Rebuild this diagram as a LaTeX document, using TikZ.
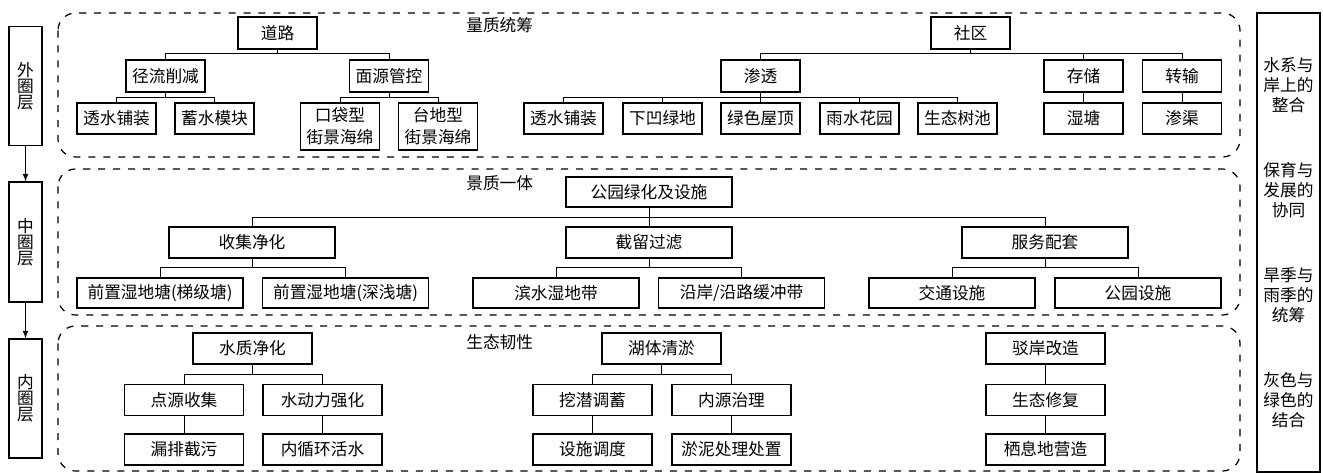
\documentclass[tikz,border=0pt]{standalone}
\usepackage{fontspec}
\setmainfont{Noto Sans CJK SC}
\usepackage{tikz}

\begin{document}
\begin{tikzpicture}[
		x=0.02cm, y=-0.02cm,
		every node/.style={font=\fontsize{9.5}{12.5}\selectfont, inner sep=0pt},
		box/.style={draw, line width=0.7pt, minimum width=1.58cm, minimum height=0.64cm, align=center},
		wide/.style={box, minimum width=3.32cm, minimum height=0.6cm},
		mid/.style={box, minimum width=2.38cm, minimum height=0.62cm},
		layer/.style={draw, line width=0.7pt, minimum width=0.66cm, minimum height=2.38cm, align=center, font=\fontsize{9.5}{9.1}\selectfont},
		goal/.style={align=center, font=\fontsize{9.5}{11.4}\selectfont},
		zone/.style={dash pattern=on 4pt off 4.5pt, line width=0.7pt, rounded corners=0.35cm},
		link/.style={line width=0.5pt}
	]
  \useasboundingbox (0,0) rectangle (1323,473);

  \draw [zone] (58,13) rectangle (1240,157);
  \draw [zone] (58,169) rectangle (1240,315);
  \draw [zone] (58,326) rectangle (1240,471);

  \node (L_out) [layer] at (25.5,86) {外\\圈\\层};
  \node (L_mid) [layer, minimum height=2.4cm] at (25.5,242) {中\\圈\\层};
  \node (L_in) [layer] at (25.5,398.5) {内\\圈\\层};
  \draw [link, -latex] (L_out) -- (L_mid);
  \draw [link, -latex] (L_mid) -- (L_in);

  \node (goals) [draw, line width=0.7pt, minimum width=1.26cm, minimum height=9.18cm] at (1288.5,242.5) {};
  \node (g_1) [goal] at (1288.5,85) {水系与\\岸上的\\整合};
  \node (g_2) [goal] at (1288.5,190) {保育与\\发展的\\协同};
  \node (g_3) [goal] at (1288.5,295) {旱季与\\雨季的\\统筹};
  \node (g_4) [goal] at (1288.5,400) {灰色与\\绿色的\\结合};

  \node (t_1) [anchor=west] at (466,25) {量质统筹};
  \node (t_2) [anchor=west] at (466,183) {景质一体};
  \node (t_3) [anchor=west] at (466,342) {生态韧性};

  \node (road) [box] at (277.5,33) {道路};
  \node (runoff) [box] at (165.5,76) {径流削减};
  \node (nonpt) [box] at (389,76) {面源管控};
  \node (pave_a) [box, minimum height=0.62cm] at (116.5,118.5) {透水铺装};
  \node (module) [box, minimum height=0.62cm] at (214.5,118.5) {蓄水模块};
  \node (pocket) [box, minimum height=0.94cm] at (340,126.5) {口袋型\\街景海绵};
  \node (terrace) [box, minimum height=0.94cm] at (438,126.5) {台地型\\街景海绵};
  \node (comm) [box] at (970.5,33) {社区};
  \node (infil) [box] at (760.5,76) {渗透};
  \node (store) [box] at (1083.5,76) {存储};
  \node (trans) [box] at (1182,76) {转输};
  \node (pave_b) [box, minimum height=0.62cm] at (563.5,118.5) {透水铺装};
  \node (sunken) [box, minimum height=0.62cm] at (662.5,118.5) {下凹绿地};
  \node (roof) [box, minimum height=0.62cm] at (760.5,118.5) {绿色屋顶};
  \node (rain) [box, minimum height=0.62cm] at (859.5,118.5) {雨水花园};
  \node (pit) [box, minimum height=0.62cm] at (957.5,118.5) {生态树池};
  \node (wet) [box, minimum height=0.62cm] at (1083.5,118.5) {湿塘};
  \node (ditch) [box, minimum height=0.62cm] at (1182,118.5) {渗渠};
  \draw [link] (road.south) -- ++(0,4) -| (runoff.north);
  \draw [link] (road.south) -- ++(0,4) -| (nonpt.north);
  \draw [link] (runoff.south) -- ++(0,5) -| (pave_a.north);
  \draw [link] (runoff.south) -- ++(0,5) -| (module.north);
  \draw [link] (nonpt.south) -- ++(0,5) -| (pocket.north);
  \draw [link] (nonpt.south) -- ++(0,5) -| (terrace.north);
  \draw [link] (comm.south) -- ++(0,4) -| (infil.north);
  \draw [link] (comm.south) -- ++(0,4) -| (store.north);
  \draw [link] (comm.south) -- ++(0,4) -| (trans.north);
  \draw [link] (infil.south) -- ++(0,5) -| (pave_b.north);
  \draw [link] (infil.south) -- ++(0,5) -| (sunken.north);
  \draw [link] (infil.south) -- (roof.north);
  \draw [link] (infil.south) -- ++(0,5) -| (rain.north);
  \draw [link] (infil.south) -- ++(0,5) -| (pit.north);
  \draw [link] (store) -- (wet);
  \draw [link] (trans) -- (ditch);

  \node (park) [wide] at (649,192) {公园绿化及设施};
  \node (collect) [wide, minimum height=0.62cm] at (252,242.5) {收集净化};
  \node (retain) [wide, minimum height=0.62cm] at (649,242.5) {截留过滤};
  \node (service) [wide, minimum height=0.62cm] at (1045,242.5) {服务配套};
  \node (pond_a) [wide] at (160,293) {前置湿地塘(梯级塘)};
  \node (pond_b) [wide] at (345.5,293) {前置湿地塘(深浅塘)};
  \node (shore) [wide] at (556,293) {滨水湿地带};
  \node (buffer) [wide] at (741.5,293) {沿岸/沿路缓冲带};
  \node (traffic) [wide] at (952,293) {交通设施};
  \node (facil) [wide] at (1138,293) {公园设施};
  \draw [link] (park.south) -- ++(0,10) -| (collect.north);
  \draw [link] (park.south) -- (retain.north);
  \draw [link] (park.south) -- ++(0,10) -| (service.north);
  \draw [link] (collect.south) -- ++(0,9) -| (pond_a.north);
  \draw [link] (collect.south) -- ++(0,9) -| (pond_b.north);
  \draw [link] (retain.south) -- ++(0,9) -| (shore.north);
  \draw [link] (retain.south) -- ++(0,9) -| (buffer.north);
  \draw [link] (service.south) -- ++(0,9) -| (traffic.north);
  \draw [link] (service.south) -- ++(0,9) -| (facil.north);

  \node (quality) [mid] at (252.5,348.5) {水质净化};
  \node (point) [mid] at (184,400) {点源收集};
  \node (hydro) [mid] at (322.5,400) {水动力强化};
  \node (leak) [mid] at (184,449.5) {漏排截污};
  \node (circ) [mid] at (322.5,449.5) {内循环活水};
  \node (dredge) [mid] at (661.5,348.5) {湖体清淤};
  \node (dig) [mid] at (592.5,400) {挖潜调蓄};
  \node (inner) [mid] at (731.5,400) {内源治理};
  \node (sched) [mid] at (592.5,449.5) {设施调度};
  \node (sludge) [mid] at (731.5,449.5) {淤泥处理处置};
  \node (bank) [mid] at (1045.5,348.5) {驳岸改造};
  \node (restore) [mid] at (1045.5,400) {生态修复};
  \node (habitat) [mid] at (1045.5,449.5) {栖息地营造};
  \draw [link] (quality.south) -- ++(0,10) -| (point.north);
  \draw [link] (quality.south) -- ++(0,10) -| (hydro.north);
  \draw [link] (point) -- (leak);
  \draw [link] (hydro) -- (circ);
  \draw [link] (dredge.south) -- ++(0,10) -| (dig.north);
  \draw [link] (dredge.south) -- ++(0,10) -| (inner.north);
  \draw [link] (dig) -- (sched);
  \draw [link] (inner) -- (sludge);
  \draw [link] (bank) -- (restore);
  \draw [link] (restore) -- (habitat);
\end{tikzpicture}
\end{document}
